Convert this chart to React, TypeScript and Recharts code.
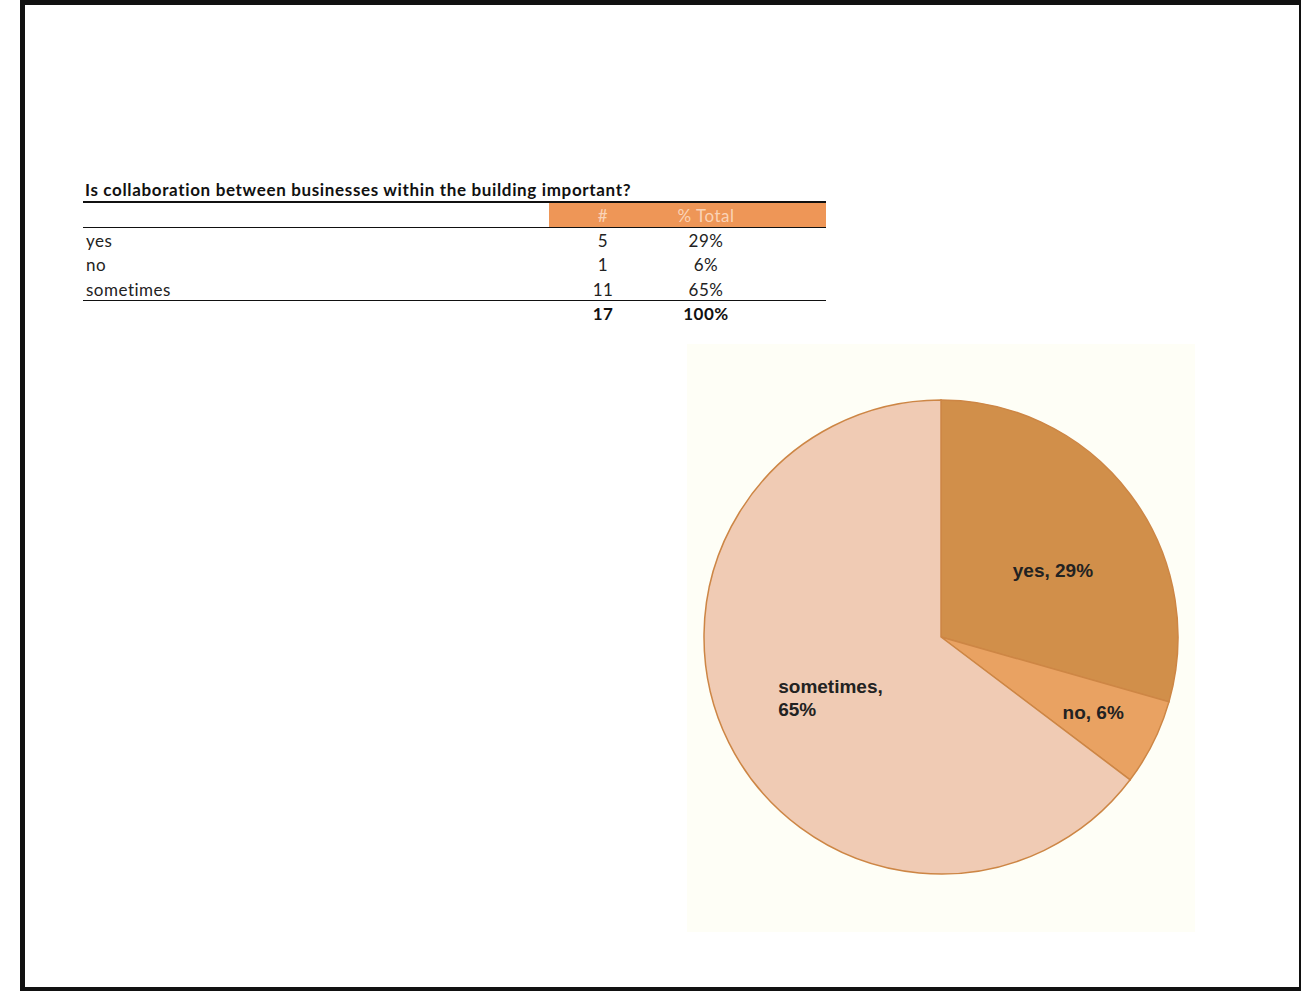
import React from 'react';
import { PieChart, Pie, Cell } from 'recharts';

// Survey answers
const question = 'Is collaboration between businesses within the building important?';
const answers = ['yes', 'no', 'sometimes'];
const counts = [5, 1, 11];
const percentLabels = ['29%', '6%', '65%'];
const totalLabel = '17';
const totalPercentLabel = '100%';
const headerLabels = ['#', '% Total'];

const sliceColors = ['#D18F4A', '#E9A262', '#F0CBB4'];
// label placement tweaks (radius from centre, angle shift in degrees)
const labelRadius = [130, 170, 126];
const labelAngleShift = [-6.5, 0, 0];

const pieData = answers.map((name, i) => ({ name, value: counts[i] }));
const total = counts.reduce((a, b) => a + b, 0);

const RAD = Math.PI / 180;
const tableFont = 'Lato, "Open Sans", sans-serif';
const cellText = { fontFamily: tableFont, fontSize: 17, letterSpacing: 0.5, color: '#222' };

const renderLabel = (props: any) => {
  const { cx, cy, midAngle, index, name, value } = props;
  const r = labelRadius[index];
  const a = midAngle + labelAngleShift[index];
  const x = cx + r * Math.cos(-a * RAD);
  const y = cy + r * Math.sin(-a * RAD);
  const pct = Math.round((value / total) * 100) + '%';
  const style = { fontFamily: '"Liberation Sans", Arial, sans-serif', fontWeight: 700, fontSize: 19 };
  if (name.length > 5) {
    // long names wrap onto two lines, left aligned
    return (
      <text x={x - 50} y={y} textAnchor="start" fill="#222" style={style}>
        <tspan x={x - 50} dy={0}>{name + ','}</tspan>
        <tspan x={x - 50} dy={23}>{pct}</tspan>
      </text>
    );
  }
  return (
    <text x={x} y={y} textAnchor="middle" dominantBaseline="central" fill="#222" style={style}>
      {name + ', ' + pct}
    </text>
  );
};

const rowTops = [229, 253, 278];

export default function App() {
  return (
    <div style={{ position: 'absolute', left: 0, top: 0, width: 1301, height: 991, background: '#fff', overflow: 'hidden' }}>
      {/* page frame */}
      <div
        style={{
          position: 'absolute',
          left: 20,
          top: 0,
          width: 1281,
          height: 991,
          boxSizing: 'border-box',
          borderStyle: 'solid',
          borderColor: '#111',
          borderWidth: '5px 2px 4px 5px',
        }}
      />

      {/* summary table */}
      <div style={{ position: 'absolute', left: 85, top: 179, fontFamily: tableFont, fontWeight: 700, fontSize: 17, letterSpacing: 0.65, color: '#111', whiteSpace: 'nowrap' }}>
        {question}
      </div>
      <div style={{ position: 'absolute', left: 83, top: 201, width: 743, height: 2, background: '#111' }} />
      <div style={{ position: 'absolute', left: 549, top: 203, width: 277, height: 24, background: '#EE9657' }} />
      {headerLabels.map((h, i) => (
        <div
          key={h}
          style={{
            ...cellText,
            position: 'absolute',
            left: i === 0 ? 563 : 646,
            top: 204,
            width: i === 0 ? 80 : 120,
            height: 24,
            lineHeight: '24px',
            textAlign: 'center',
            color: '#FAD3B6',
          }}
        >
          {h}
        </div>
      ))}
      <div style={{ position: 'absolute', left: 83, top: 227, width: 743, height: 1, background: '#111' }} />
      {answers.map((a, i) => (
        <React.Fragment key={a}>
          <div style={{ ...cellText, position: 'absolute', left: 86, top: rowTops[i], height: 24, lineHeight: '24px' }}>{a}</div>
          <div style={{ ...cellText, position: 'absolute', left: 563, top: rowTops[i], width: 80, height: 24, lineHeight: '24px', textAlign: 'center' }}>{counts[i]}</div>
          <div style={{ ...cellText, position: 'absolute', left: 646, top: rowTops[i], width: 120, height: 24, lineHeight: '24px', textAlign: 'center' }}>{percentLabels[i]}</div>
        </React.Fragment>
      ))}
      <div style={{ position: 'absolute', left: 83, top: 300, width: 743, height: 1, background: '#111' }} />
      <div style={{ ...cellText, position: 'absolute', left: 563, top: 302, width: 80, height: 24, lineHeight: '24px', textAlign: 'center', fontWeight: 700, color: '#111' }}>{totalLabel}</div>
      <div style={{ ...cellText, position: 'absolute', left: 646, top: 302, width: 120, height: 24, lineHeight: '24px', textAlign: 'center', fontWeight: 700, color: '#111' }}>{totalPercentLabel}</div>

      {/* pie chart */}
      <div style={{ position: 'absolute', left: 687, top: 344, width: 508, height: 588, background: '#FEFEF6' }}>
        <PieChart width={508} height={588} margin={{ top: 0, right: 0, bottom: 0, left: 0 }}>
          <Pie
            data={pieData}
            dataKey="value"
            nameKey="name"
            cx={254}
            cy={293}
            outerRadius={237}
            startAngle={90}
            endAngle={-270}
            stroke="#CD8645"
            strokeWidth={1.5}
            labelLine={false}
            label={renderLabel}
            isAnimationActive={false}
          >
            {pieData.map((d, i) => (
              <Cell key={d.name} fill={sliceColors[i]} />
            ))}
          </Pie>
        </PieChart>
      </div>
    </div>
  );
}
